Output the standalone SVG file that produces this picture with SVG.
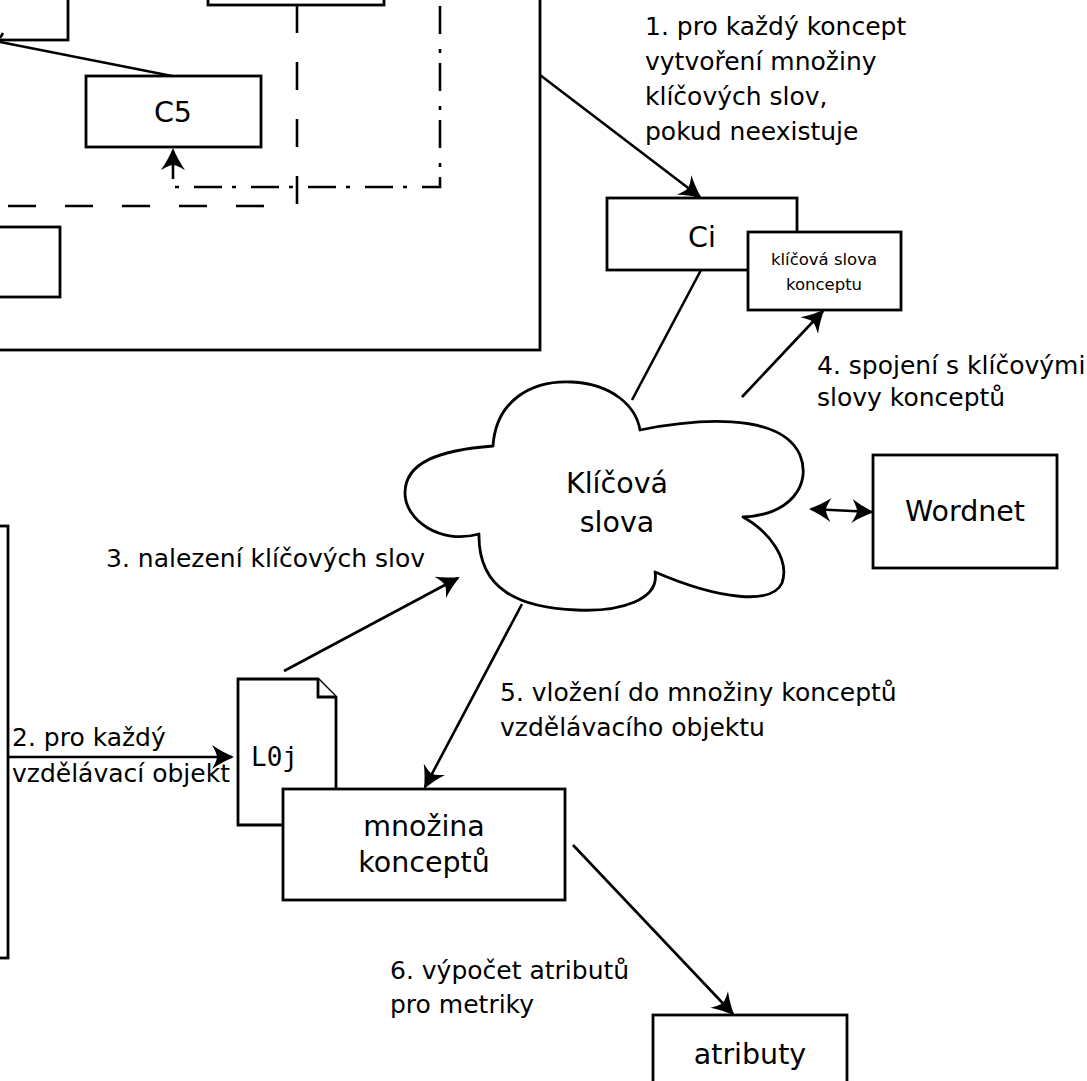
<svg xmlns="http://www.w3.org/2000/svg" width="1087" height="1081" viewBox="0 0 1087 1081">
<style>
.box{fill:#fff;stroke:#000;stroke-width:2.8}
.ln{fill:none;stroke:#000;stroke-width:2.6}
.lbl{font-family:"DejaVu Sans",sans-serif;font-size:28.5px;fill:#000;text-anchor:middle}
.ann{font-family:"DejaVu Sans",sans-serif;font-size:25px;fill:#000}
.small{font-family:"DejaVu Sans",sans-serif;font-size:16.5px;fill:#000;text-anchor:middle}
.mono{font-family:"DejaVu Sans Mono",monospace;font-size:26px;fill:#000}
</style>
<defs>
<marker id="ah" markerUnits="userSpaceOnUse" markerWidth="30" markerHeight="30" viewBox="-24 -15 30 30" refX="0" refY="0" orient="auto-start-reverse">
<path d="M2,0 C-5,-3 -13,-7 -20,-12 C-16,-5 -15,-2 -15,0 C-15,2 -16,5 -20,12 C-13,7 -5,3 2,0 Z" fill="#000"/>
</marker>
</defs>
<rect width="1087" height="1081" fill="#fff"/>

<g id="frame"><rect class="box" x="-20" y="-20" width="560" height="370"/></g>
<g id="box-topleft"><rect class="box" x="-20" y="-20" width="88" height="60"/></g>
<g id="box-top"><rect class="box" x="208" y="-20" width="176" height="25"/></g>
<g id="box-bottomleft"><rect class="box" x="-20" y="227" width="80" height="70"/></g>
<g id="node-c5"><rect class="box" x="86" y="76" width="175" height="71"/><text class="lbl" x="173" y="122">C5</text></g>

<g id="node-ci"><rect class="box" x="607" y="198" width="190" height="72"/><text class="lbl" x="702" y="247">Ci</text></g>
<g id="node-kw-concept"><rect class="box" x="748" y="232" width="153" height="78"/><text class="small" x="824" y="265">klíčová slova</text><text class="small" x="824" y="290">konceptu</text></g>

<g id="node-cloud">
<path fill="#fff" stroke="#000" stroke-width="2.8" stroke-linejoin="round" d="M493,446 C496,400 532,380 572,382 C612,384 636,406 640,430 C690,420 780,410 800,455 C812,485 790,515 743,517 C770,532 790,560 782,583 C772,605 720,600 655,572 C660,600 620,612 577,610 C520,608 478,590 479,534 C440,545 405,520 405,493 C405,462 440,450 493,446 Z"/>
<text class="lbl" x="617" y="493">Klíčová</text><text class="lbl" x="617" y="532">slova</text>
</g>

<g id="node-wordnet"><rect class="box" x="873" y="455" width="184" height="113"/><text class="lbl" x="965" y="521">Wordnet</text></g>

<g id="node-left"><rect class="box" x="-20" y="526" width="28" height="432"/></g>

<g id="node-loj"><path class="box" d="M238,679 L318,679 L336,697 L336,825 L238,825 Z"/><path class="box" d="M318,679 L318,697 L336,697" stroke-width="1.6"/><text class="mono" x="251" y="766">L0j</text></g>

<g id="node-mnozina"><rect class="box" x="283" y="789" width="282" height="111"/><text class="lbl" x="424" y="836">množina</text><text class="lbl" x="424" y="872">konceptů</text></g>

<g id="node-atributy"><rect class="box" x="653" y="1015" width="194" height="80"/><text class="lbl" x="750" y="1064">atributy</text></g>

<g id="connectors">
<line class="ln" x1="172" y1="76" x2="0" y2="42"/>
<line class="ln" x1="0" y1="38" x2="3" y2="33"/>
<line class="ln" x1="297" y1="5" x2="297" y2="207" stroke-dasharray="28,29"/>
<line class="ln" x1="8" y1="206" x2="270" y2="206" stroke-dasharray="28,29"/>
<path class="ln" d="M440,6 L440,187 L173,187 L173,150" stroke-dasharray="28,15,4,10" marker-end="url(#ah)"/>
<line class="ln" x1="540" y1="75" x2="700" y2="197" marker-end="url(#ah)"/>
<line class="ln" x1="701" y1="270" x2="632" y2="400"/>
<line class="ln" x1="742" y1="397" x2="823" y2="311" marker-end="url(#ah)"/>
<line class="ln" x1="811" y1="509" x2="872" y2="512" marker-start="url(#ah)" marker-end="url(#ah)"/>
<line class="ln" x1="284" y1="671" x2="458" y2="578" marker-end="url(#ah)"/>
<line class="ln" x1="8" y1="757" x2="232" y2="757" marker-end="url(#ah)"/>
<line class="ln" x1="522" y1="604" x2="425" y2="787" marker-end="url(#ah)"/>
<line class="ln" x1="573" y1="845" x2="733" y2="1014" marker-end="url(#ah)"/>
</g>

<g id="annotations">
<text class="ann" x="645" y="35">1. pro každý koncept</text>
<text class="ann" x="645" y="70">vytvoření množiny</text>
<text class="ann" x="645" y="105">klíčových slov,</text>
<text class="ann" x="645" y="140">pokud neexistuje</text>
<text class="ann" x="817" y="374">4. spojení s klíčovými</text>
<text class="ann" x="817" y="406">slovy konceptů</text>
<text class="ann" x="106" y="567">3. nalezení klíčových slov</text>
<text class="ann" x="12" y="746">2. pro každý</text>
<text class="ann" x="12" y="782">vzdělávací objekt</text>
<text class="ann" x="500" y="701">5. vložení do množiny konceptů</text>
<text class="ann" x="500" y="736">vzdělávacího objektu</text>
<text class="ann" x="390" y="979">6. výpočet atributů</text>
<text class="ann" x="390" y="1013">pro metriky</text>
</g>
</svg>
